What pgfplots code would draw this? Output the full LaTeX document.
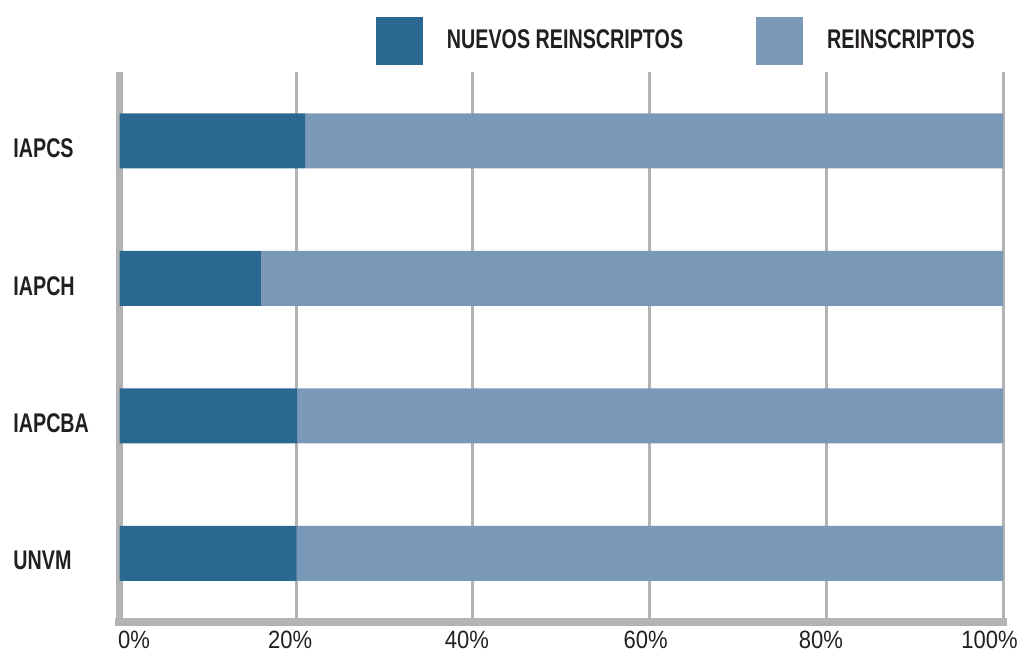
\documentclass[border=0pt]{standalone}
\usepackage{fontspec}
\setmainfont{Liberation Sans}
\newfontfamily\condbold{Liberation Sans}[FakeStretch=0.73]
\newfontfamily\condreg{Liberation Sans}[FakeStretch=0.88]
\usepackage{pgfplots}
\pgfplotsset{compat=1.18}
\definecolor{darkblue}{HTML}{2B6891}
\definecolor{lightblue}{HTML}{7A99B8}
\definecolor{axisgray}{HTML}{B3B3B3}
\definecolor{txt}{HTML}{231F20}
\begin{document}
\begin{tikzpicture}
\path[use as bounding box] (0,0) rectangle (511bp,326bp);
\begin{axis}[
  at={(59.75bp,15bp)}, anchor=south west,
  scale only axis, width=441.75bp, height=275bp,
  xbar stacked, bar width=0.4,
  xmin=0, xmax=100, ymin=-0.5, ymax=3.5,
  axis lines*=left,
  axis line style={draw=axisgray},
  x axis line style={line width=4bp, line cap=rect},
  y axis line style={line width=3.5bp},
  xmajorgrids,
  major grid style={draw=axisgray, line width=1.5bp},
  major tick length=0pt,
  xtick={0,20,40,60,80,100},
  xticklabels={\makebox[0pt]{\hspace*{14.5bp}0\%},\makebox[0pt]{\hspace*{-6bp}20\%},\makebox[0pt]{\hspace*{-6bp}40\%},\makebox[0pt]{\hspace*{-4bp}60\%},\makebox[0pt]{\hspace*{-5.5bp}80\%},\makebox[0pt]{\hspace*{-13.5bp}100\%}},
  xticklabel style={anchor=north, inner sep=0pt, yshift=-4.5bp, font=\condreg\fontsize{12.5bp}{14bp}\selectfont, text=txt},
  ytick={0,1,2,3},
  yticklabels={UNVM,IAPCBA,IAPCH,IAPCS},
  yticklabel style={anchor=west, inner sep=0pt, xshift=-53.25bp, yshift=-3.75bp, font=\condbold\bfseries\fontsize{13.5bp}{16bp}\selectfont, text=txt},
  legend style={draw=none, fill=none, at={(0.2903,1.0564)}, anchor=west,
    legend columns=-1, inner sep=0pt, outer sep=0pt,
    nodes={inner sep=0pt, text=txt, font=\condbold\bfseries\fontsize{13.5bp}{16bp}\selectfont},
    /tikz/every odd column/.append style={column sep=12bp},
    /tikz/every even column/.append style={column sep=36.5bp}},
  legend cell align=left,
  legend image code/.code={\fill[#1] (0bp,-12bp) rectangle (23.5bp,12bp);},
]
\addplot[fill=darkblue, draw=none] coordinates {(20.05,0) (20.1,1) (16.0,2) (21.0,3)};
\addplot[fill=lightblue, draw=none] coordinates {(79.95,0) (79.9,1) (84.0,2) (79.0,3)};
\legend{NUEVOS REINSCRIPTOS, REINSCRIPTOS}
\end{axis}
\end{tikzpicture}
\end{document}
